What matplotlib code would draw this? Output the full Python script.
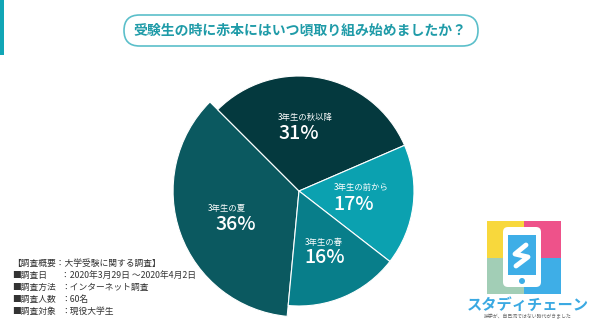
import matplotlib.pyplot as plt
from matplotlib.patches import FancyBboxPatch, Rectangle, Circle

plt.rcParams['font.family'] = ['Noto Sans CJK JP', 'DejaVu Sans']

# data
labels = ['3年生の秋以降', '3年生の前から', '3年生の春', '3年生の夏']
values = [31, 17, 16, 36]
colors = ['#04393e', '#0ba1b0', '#087e8a', '#0b5960']
title = '受験生の時に赤本にはいつ頃取り組み始めましたか？'
notes_head = '【調査概要：大学受験に関する調査】'
notes_keys = ['■調査日', '■調査方法', '■調査人数', '■調査対象']
notes_vals = ['：2020年3月29日 ～2020年4月2日', '：インターネット調査', '：60名', '：現役大学生']

W, H = 600, 325
fig = plt.figure(figsize=(W / 100, H / 100), dpi=100)

# overlay in pixel coords
bg = fig.add_axes([0, 0, 1, 1])
bg.set_xlim(0, W)
bg.set_ylim(H, 0)
bg.axis('off')

bg.add_patch(Rectangle((0, 0), 3.5, 55, color='#11a6b6', lw=0))
bg.add_patch(FancyBboxPatch((124, 15), 354, 31, boxstyle='round,pad=0,rounding_size=15.5',
                            fc='white', ec='#5bbfca', lw=1.2))
bg.text(300, 30.5, title, ha='center', va='center', fontsize=10, fontweight='bold', color='#1f9ba8')

bg.text(12, 263, notes_head, ha='left', va='center', fontsize=6.3, color='#333333')
for i, (k, v) in enumerate(zip(notes_keys, notes_vals)):
    y = 275 + i * 12
    bg.text(12, y, k, ha='left', va='center', fontsize=6.3, color='#333333')
    bg.text(61, y, v, ha='left', va='center', fontsize=6.3, color='#333333')

# logo
bg.add_patch(Rectangle((487, 221), 37, 37, color='#f8d83c', lw=0))
bg.add_patch(Rectangle((524, 221), 37, 37, color='#ee528a', lw=0))
bg.add_patch(Rectangle((487, 258), 37, 36, color='#a2ceb6', lw=0))
bg.add_patch(Rectangle((524, 258), 37, 36, color='#3eaee7', lw=0))
bg.add_patch(FancyBboxPatch((503, 227), 38, 60, boxstyle='round,pad=0,rounding_size=5',
                            fc='white', ec='none'))
bg.add_patch(Rectangle((508, 235), 28, 40, color='#3eaee7', lw=0))
bg.plot([526, 515, 528, 516], [245, 254, 257, 266], color='white', lw=3.5, solid_capstyle='round')
bg.add_patch(Circle((522, 281), 3, color='#3eaee7', lw=0))
bg.text(528, 305, 'スタディチェーン', ha='center', va='center', fontsize=11, fontweight='bold', color='#3aa9e2')
bg.text(528, 317, '独学が、自己流ではない時代がきました', ha='center', va='center', fontsize=3.5, color='#666666')

# pie: center (299,191) px, radius 115 px
r_px = 115
half = 132
ax = fig.add_axes([(299 - half) / W, (H - 191 - half) / H, 2 * half / W, 2 * half / H])

wedges, _ = ax.pie(values, colors=colors, startangle=135, counterclock=False, radius=1,
                   wedgeprops=dict(edgecolor='white', linewidth=0.8))
wedges[3].set_radius(1.095)
wedges[3].set_zorder(0)

lim = half / r_px
ax.set_xlim(-lim, lim)
ax.set_ylim(-lim, lim)
ax.set_aspect('equal')
ax.axis('off')

label_pos = [(-0.18, 0.64), (0.30, 0.03), (0.05, -0.45), (-0.79, -0.15)]
pct_pos = [(-0.18, 0.50), (0.30, -0.12), (0.05, -0.58), (-0.73, -0.29)]
for lab, val, (lx, ly), (px, py) in zip(labels, values, label_pos, pct_pos):
    ax.text(lx, ly, lab, ha='left', va='center', fontsize=6, color='white')
    ax.text(px, py, f'{val}%', ha='left', va='center', fontsize=14, fontweight='medium', color='white')

fig.savefig('out.png', dpi=100)
